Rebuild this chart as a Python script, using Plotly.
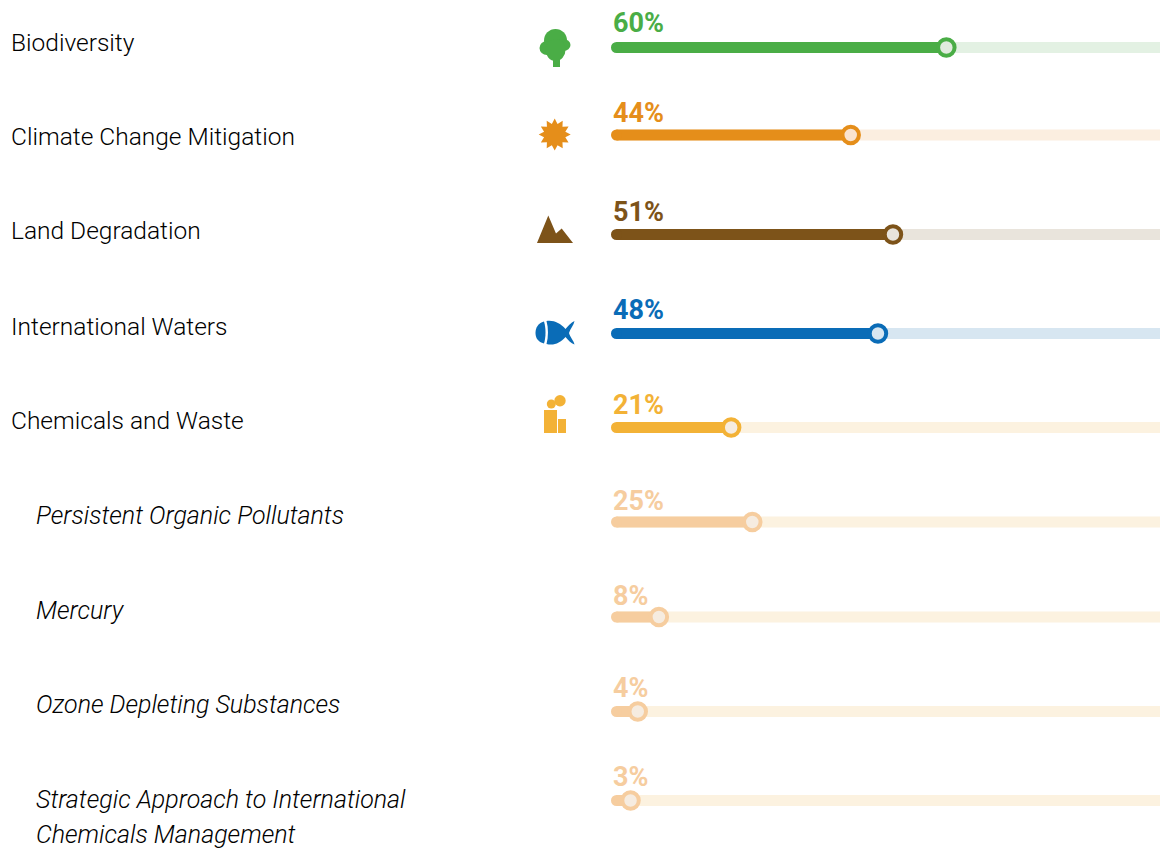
import numpy as np
import plotly.graph_objects as go

W, H = 1160, 850

# ---- data ----
categories = ["Biodiversity", "Climate Change Mitigation", "Land Degradation", "International Waters",
              "Chemicals and Waste", "Persistent Organic Pollutants", "Mercury",
              "Ozone Depleting Substances",
              "Strategic Approach to International<br>Chemicals Management"]
labels = ["60%", "44%", "51%", "48%", "21%", "25%", "8%", "4%", "3%"]
positions = [59.9, 42.7, 50.3, 47.6, 21.2, 25.0, 8.2, 4.4, 3.1]

# ---- styles / layout ----
row_y = [47.5, 135, 234.5, 333.5, 427.5, 522, 617, 711.5, 800.5]
pct_y = [23, 113, 212, 310, 405, 501, 596, 688, 777]
label_y = [42, 136, 231, 326, 420, 515, 610, 704, 799]
LINE_GAP = 35
label_x = [9, 9, 9, 9, 9, 34, 34, 34, 34]
italic = [False] * 5 + [True] * 4
bar_col = ["#4aad46", "#e58e1a", "#7d5319", "#0a6cb7", "#f3b236", "#f6cd9f", "#f6cd9f", "#f6cd9f", "#f6cd9f"]
track_col = ["#e3f1e3", "#fbeee0", "#e9e4dc", "#d7e6f1", "#fcf2e0", "#fcf2e0", "#fcf2e0", "#fcf2e0", "#fcf2e0"]
knob_col = ["#e1ebde", "#fae3cf", "#e9e4dc", "#d7e6f1", "#f6ece0", "#f6ece0", "#f6ece0", "#f6ece0", "#f6ece0"]
PX_PER_PCT, X0 = 5.56, 613.3
XMAX = (W - X0) / PX_PER_PCT
START = (616.5 - X0) / PX_PER_PCT

fig = go.Figure()
for i, c in enumerate(categories):
    y = row_y[i]
    fig.add_trace(go.Scatter(x=[START, XMAX + 1], y=[y, y], mode="lines",
                             line=dict(color=track_col[i], width=11), hoverinfo="skip"))
    fig.add_trace(go.Scatter(x=[START, positions[i]], y=[y, y], mode="lines",
                             line=dict(color=bar_col[i], width=11), hoverinfo="skip"))
    fig.add_trace(go.Scatter(x=[START], y=[y], mode="markers",
                             marker=dict(color=bar_col[i], size=11), hoverinfo="skip"))
    fig.add_trace(go.Scatter(x=[positions[i]], y=[y], mode="markers",
                             marker=dict(color=knob_col[i], size=16.5, line=dict(color=bar_col[i], width=4)),
                             hoverinfo="skip"))


def px(x):
    return x / W


def py(y):
    return 1 - y / H


annotations = []
for i, c in enumerate(categories):
    for j, line in enumerate(c.split("<br>")):
        annotations.append(dict(xref="paper", yref="paper", x=px(label_x[i]), y=py(label_y[i] + j * LINE_GAP),
                                xanchor="left", yanchor="middle", align="left", showarrow=False,
                                text=f"<i>{line}</i>" if italic[i] else line,
                                font=dict(family="Roboto", weight=300, size=25 if italic[i] else 24.5,
                                          color="#000000")))
    annotations.append(dict(xref="paper", yref="paper", x=px(611), y=py(pct_y[i]),
                            xanchor="left", yanchor="middle", showarrow=False,
                            text=f"<b>{labels[i]}</b>",
                            font=dict(family="Roboto", size=27, color=bar_col[i])))

shapes = []


def circle(cx, cy, rx, ry, color):
    shapes.append(dict(type="circle", xref="paper", yref="paper", x0=px(cx - rx), x1=px(cx + rx),
                       y0=py(cy + ry), y1=py(cy - ry), fillcolor=color, line_width=0))


def path(points, color, cmd=None):
    d = cmd if cmd else "M" + "L".join(f"{px(a):.5f},{py(b):.5f}" for a, b in points) + "Z"
    shapes.append(dict(type="path", xref="paper", yref="paper", path=d, fillcolor=color, line_width=0))


def curve(segs, color):
    """segs: start point then cubic triples, in pixel space"""
    d = f"M{px(segs[0][0]):.5f},{py(segs[0][1]):.5f}"
    rest = segs[1:]
    for k in range(0, len(rest), 3):
        d += "C" + " ".join(f"{px(a):.5f},{py(b):.5f}" for a, b in rest[k:k + 3])
    path(None, color, d + "Z")


# tree
G = bar_col[0]
circle(555.5, 40.5, 11.5, 11.5, G)
circle(547, 48, 7.5, 7, G)
circle(563.5, 45, 7, 6, G)
circle(555.5, 50, 10, 11, G)
path([(553, 55), (560, 55), (560, 67), (553, 67)], G)
# sun
ang = np.linspace(0, 2 * np.pi, 24, endpoint=False) - np.pi / 2
rad = np.where(np.arange(24) % 2 == 0, 16, 11)
path(list(zip(554.7 + rad * np.cos(ang), 134.5 + rad * np.sin(ang))), bar_col[1])
# mountains
path([(537, 243), (548.3, 215.5), (556, 233.5), (561.7, 228.5), (573, 243)], bar_col[2])
# fish
B = bar_col[3]
curve([(544, 321.5), (538, 323), (535.5, 328), (535.5, 333),
       (535.5, 338), (538, 342), (544, 343.5), (546, 337), (546, 328), (544, 321.5)], B)
curve([(546.5, 321), (554, 320), (560, 323), (565.5, 329), (568, 326), (571, 322.5), (574.5, 321),
       (574, 325), (570, 329), (569, 333), (570, 337), (574, 341), (574.5, 344.5),
       (571, 343.5), (568, 340), (565.5, 337), (560, 343), (554, 346), (546.5, 344),
       (548.5, 337), (548.5, 328), (546.5, 321)], B)
# factory
Y = bar_col[4]
path([(544, 410), (557, 410), (557, 433), (544, 433)], Y)
path([(558, 419), (566, 419), (566, 433), (558, 433)], Y)
circle(560, 400.7, 5.7, 5.7, Y)
circle(551.3, 404, 4.5, 4.5, Y)

fig.update_layout(
    width=W, height=H, margin=dict(l=0, r=0, t=0, b=0), showlegend=False,
    paper_bgcolor="white", plot_bgcolor="white",
    xaxis=dict(range=[-X0 / PX_PER_PCT, XMAX], visible=False, fixedrange=True),
    yaxis=dict(range=[H, 0], visible=False, fixedrange=True),
    annotations=annotations, shapes=shapes,
)
fig.write_html("out.html", config={"displayModeBar": False},
               post_script="document.body.style.margin='0';")
